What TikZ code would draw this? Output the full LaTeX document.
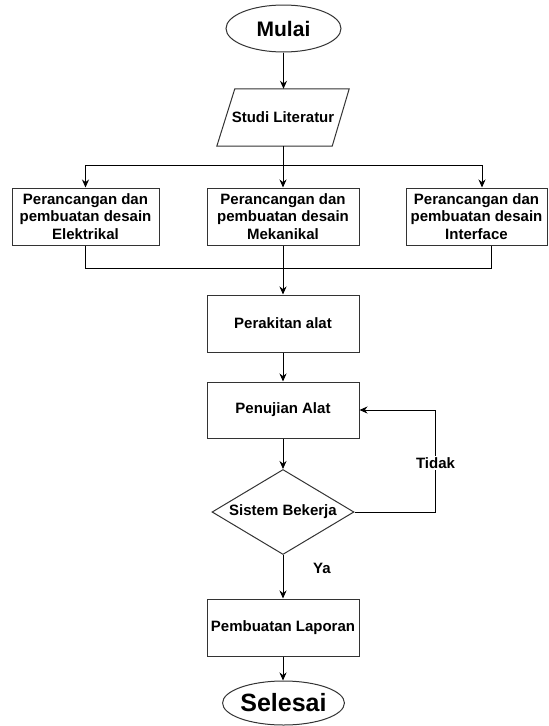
\documentclass[tikz,border=0pt]{standalone}
\usepackage{fontspec}
\setmainfont{Liberation Sans}
\usetikzlibrary{shapes.geometric,arrows.meta}
\begin{document}
\begin{tikzpicture}[x=1pt,y=-1pt,
  every node/.style={font=\bfseries\fontsize{15}{17.8}\selectfont},
  shp/.style={draw=black!80, line width=1pt},
  box/.style={shp, fill=white, rectangle, inner sep=0pt, align=center, minimum height=57pt},
  term/.style={shp, fill=white, ellipse, inner sep=0pt},
  arr/.style={line width=1pt, -{Stealth[length=8pt,width=7pt]}},
  ln/.style={line width=1pt},
  lbl/.style={fill=white, inner sep=1pt}]
\useasboundingbox (0,0) rectangle (549,726);

\node[term, minimum width=115pt, minimum height=47pt, font=\bfseries\fontsize{21}{24}\selectfont] (mulai) at (283.5,28.5) {Mulai};
\node[minimum width=132pt, minimum height=57pt, inner sep=0pt] (studi) at (283,117.5) {Studi Literatur};
\draw[shp] ([xshift=18pt]studi.north west) -- (studi.north east) -- ([xshift=-17pt]studi.south east) -- (studi.south west) -- cycle;
\draw[arr] (mulai.south) -- (mulai.south |- studi.north);

\node[box, minimum width=147pt] (elek) at (85.5,216.5) {Perancangan dan\\pembuatan desain\\Elektrikal};
\node[box, minimum width=152pt] (mek) at (283,216.5) {Perancangan dan\\pembuatan desain\\Mekanikal};
\node[box, minimum width=141pt] (inter) at (476.5,216.5) {Perancangan dan\\pembuatan desain\\Interface};

\coordinate (br) at (283,165);
\coordinate (mg) at (283,268);
\draw[ln] (studi.south) -- (br);
\draw[arr] (br) -| (elek.north);
\draw[arr] (br) -- (mek.north);
\draw[arr] (br) -| ([xshift=5.5pt]inter.north);
\draw[ln] (elek.south) |- (mg);
\draw[ln] ([xshift=14.5pt]inter.south) |- (mg);

\node[box, minimum width=152pt] (perak) at (283,323.5) {Perakitan alat};
\draw[arr] (mek.south) -- (perak.north);
\node[box, minimum width=152pt, minimum height=56pt] (uji) at (283,410) {Penujian Alat};
\draw[arr] (perak) -- (uji);
\node[shp, fill=white, diamond, minimum width=142pt, minimum height=85pt, inner sep=0pt] (dia) at (283,512) {\makebox[0pt]{Sistem Bekerja}};
\draw[arr] (uji) -- (dia);
\coordinate (tk) at (435,410);
\draw[arr] (dia.east) -| (tk) -- (uji.east);
\node[lbl] (tidak) at (435.5,463) {Tidak};

\node[box, minimum width=152pt] (lap) at (283,627.5) {Pembuatan Laporan};
\draw[arr] (dia.south) -- (lap.north);
\node (ya) at (322,568) {Ya};
\node[term, minimum width=113pt, minimum height=44pt, font=\bfseries\fontsize{25}{28}\selectfont] (sel) at (283.5,703) {Selesai};
\draw[arr] (lap.south) -- (lap.south |- sel.north);
\end{tikzpicture}
\end{document}
